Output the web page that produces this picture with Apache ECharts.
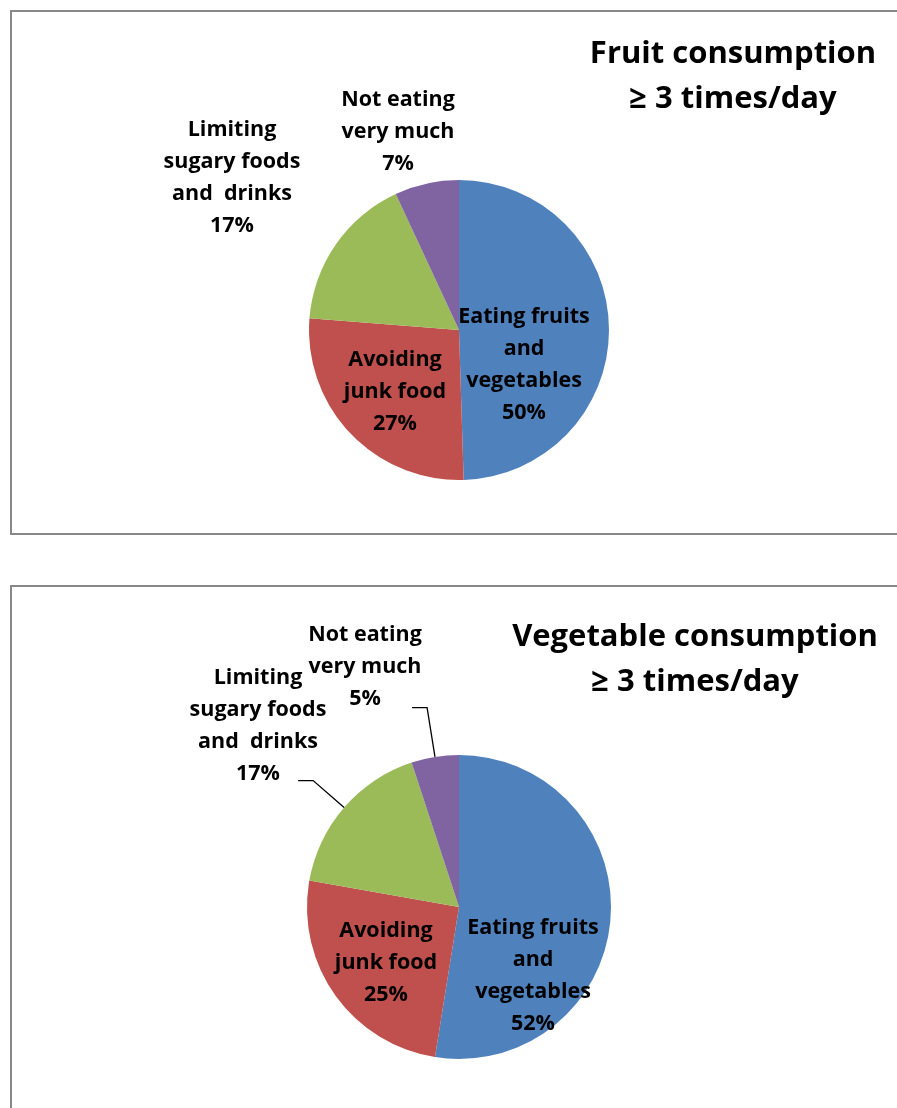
<!DOCTYPE html>
<html>
<head>
  <meta charset="utf-8" />
  <title>Fruit and vegetable consumption</title>
  <script src="https://cdn.jsdelivr.net/npm/echarts@6/dist/echarts.min.js"></script>
  <style>
    html, body { margin: 0; padding: 0; background: #fff; }
    #main { width: 897px; height: 1108px; }
  </style>
</head>
<body>
  <div id="main"></div>
  <script>
    // data
    var categories = ['Eating fruits\nand\nvegetables', 'Avoiding\njunk food', 'Limiting\nsugary foods\nand  drinks', 'Not eating\nvery much'];
    var fruitValues = [50, 27, 17, 7];
    var vegValues = [52, 25, 17, 5];
    var titles = ['Fruit consumption\n≥ 3 times/day', 'Vegetable consumption\n≥ 3 times/day'];
    var colors = ['#4F81BD', '#C0504D', '#9BBB59', '#8064A2'];

    var font = '"Open Sans", Lato, sans-serif';

    // layout of each panel
    var panels = [
      { center: [459, 330], r: 150, titleX: 728, titleY: 52,
        labelPos: [[524, 365], [395, 392], [232, 178], [398, 132]], leaders: {} },
      { center: [459, 907], r: 152, titleX: 690, titleY: 635,
        labelPos: [[533, 976], [386, 963], [258, 726], [365, 667]],
        leaders: { 2: [41, 15], 3: [50, 15] } }
    ];

    function makeData(values) {
      return values.map(function (v, i) {
        return { name: categories[i], value: v, itemStyle: { color: colors[i] } };
      });
    }

    // leader lines from slice edge, elbow outward, then a short horizontal run
    function leaderLines(values, p) {
      var total = values.reduce(function (a, b) { return a + b; }, 0);
      var out = [];
      var acc = 0;
      values.forEach(function (v, i) {
        var mid = (acc + v / 2) / total * Math.PI * 2; // clockwise from top
        acc += v;
        var len = p.leaders[i];
        if (!len) return;
        var sx = Math.sin(mid), cy = -Math.cos(mid);
        var a = [p.center[0] + p.r * sx, p.center[1] + p.r * cy];
        var b = [a[0] + len[0] * sx, a[1] + len[0] * cy];
        var c = [b[0] + (sx < 0 ? -len[1] : len[1]), b[1]];
        out.push({
          type: 'polyline',
          shape: { points: [a, b, c] },
          style: { stroke: '#000', lineWidth: 1.3, fill: null },
          z: 10
        });
      });
      return out;
    }

    var allValues = [fruitValues, vegValues];
    var series = [];
    var graphic = [
      { type: 'rect', shape: { x: 11, y: 11, width: 900, height: 523 }, style: { fill: null, stroke: '#888', lineWidth: 2 } },
      { type: 'rect', shape: { x: 11, y: 586, width: 900, height: 600 }, style: { fill: null, stroke: '#888', lineWidth: 2 } }
    ];
    var title = [];

    panels.forEach(function (p, k) {
      title.push({
        text: titles[k],
        left: p.titleX,
        top: p.titleY - 25,
        textAlign: 'center',
        textStyle: { fontFamily: font, fontWeight: 'bold', fontSize: 31, lineHeight: 45, color: '#000' }
      });
      series.push({
        name: titles[k],
        type: 'pie',
        center: p.center,
        radius: p.r,
        startAngle: 90,
        clockwise: true,
        animation: false,
        silent: true,
        data: makeData(allValues[k]),
        itemStyle: { borderWidth: 0 },
        labelLine: { show: false },
        label: {
          show: true,
          position: 'inside',
          formatter: function (d) { return d.name + '\n' + d.value + '%'; },
          fontFamily: font,
          fontWeight: 'bold',
          fontSize: 21.5,
          lineHeight: 32,
          color: '#000',
          align: 'center'
        },
        labelLayout: function (params) {
          var pos = p.labelPos[params.dataIndex];
          return { x: pos[0], y: pos[1], align: 'center', verticalAlign: 'middle' };
        }
      });
      graphic = graphic.concat(leaderLines(allValues[k], p));
    });

    var chart = echarts.init(document.getElementById('main'));
    chart.setOption({
      backgroundColor: '#fff',
      title: title,
      series: series,
      graphic: graphic
    });
  </script>
</body>
</html>
